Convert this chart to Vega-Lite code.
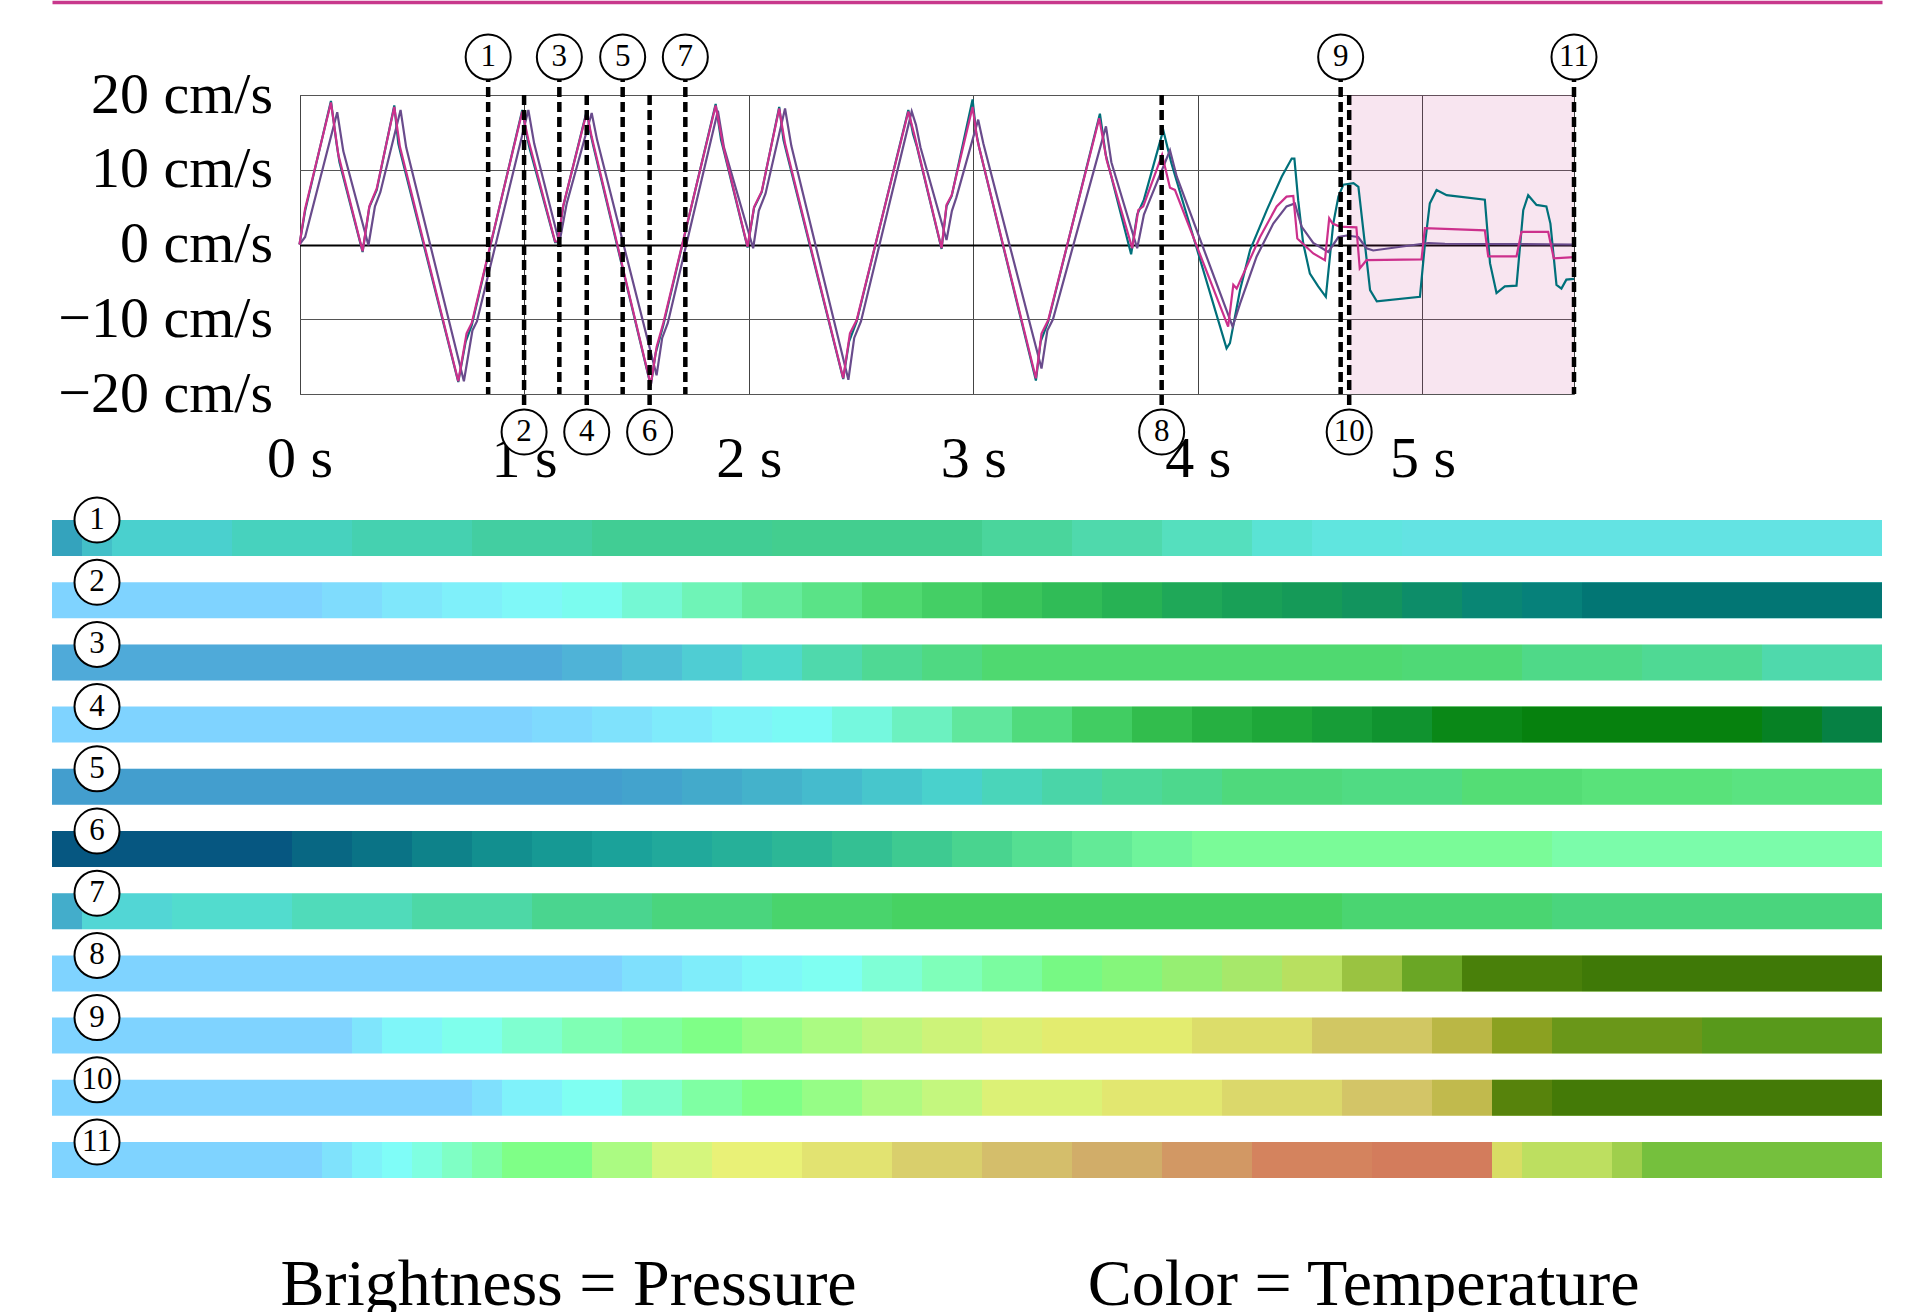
{
  "$schema": "https://vega.github.io/schema/vega-lite/v6.json",
  "width": 1920,
  "height": 1312,
  "autosize": {"type": "none"},
  "padding": 0,
  "background": "white",
  "config": {"view": {"stroke": null}, "font": "Liberation Serif"},
  "title": {
    "text": "Brightness = Pressure\u00a0\u00a0\u00a0\u00a0\u00a0\u00a0\u00a0\u00a0\u00a0\u00a0\u00a0\u00a0\u00a0\u00a0Color = Temperature",
    "orient": "bottom", "anchor": "middle", "frame": "group", "offset": -7,
    "baseline": "alphabetic", "font": "Liberation Serif", "fontSize": 66, "fontWeight": "normal", "color": "black"
  },
  "datasets": {
    "pink": [{"t":0,"v":0},{"t":0.025,"v":4.8},{"t":0.14,"v":19},{"t":0.173,"v":12},{"t":0.281,"v":-0.9},{"t":0.311,"v":5.1},{"t":0.344,"v":7.5},{"t":0.422,"v":18.4},{"t":0.447,"v":13.1},{"t":0.707,"v":-18.3},{"t":0.744,"v":-11.9},{"t":0.767,"v":-10.5},{"t":0.992,"v":17.8},{"t":1.019,"v":14},{"t":1.138,"v":0.4},{"t":1.15,"v":0.4},{"t":1.175,"v":5.3},{"t":1.279,"v":17.7},{"t":1.301,"v":14.4},{"t":1.564,"v":-18.8},{"t":1.59,"v":-13.7},{"t":1.62,"v":-10.5},{"t":1.853,"v":18.6},{"t":1.887,"v":13.1},{"t":1.995,"v":-0.3},{"t":2.024,"v":5},{"t":2.058,"v":7.1},{"t":2.136,"v":18.2},{"t":2.162,"v":13.5},{"t":2.421,"v":-17.9},{"t":2.451,"v":-11.9},{"t":2.481,"v":-10.1},{"t":2.711,"v":17.8},{"t":2.74,"v":14.4},{"t":2.859,"v":-0.5},{"t":2.881,"v":5.3},{"t":2.904,"v":6.6},{"t":2.997,"v":18.4},{"t":3.018,"v":14},{"t":3.279,"v":-17.9},{"t":3.304,"v":-11.9},{"t":3.334,"v":-10.1},{"t":3.561,"v":16.9},{"t":3.594,"v":11.3},{"t":3.708,"v":-0.5},{"t":3.735,"v":4.6},{"t":3.757,"v":5.1},{"t":3.841,"v":12},{"t":3.876,"v":7.6},{"t":3.898,"v":7.3},{"t":4.135,"v":-11},{"t":4.158,"v":-5.4},{"t":4.173,"v":-5.9},{"t":4.277,"v":1},{"t":4.351,"v":5.1},{"t":4.395,"v":6.4},{"t":4.425,"v":6.5},{"t":4.443,"v":0.8},{"t":4.514,"v":-1.2},{"t":4.566,"v":-2.1},{"t":4.585,"v":3.5},{"t":4.6,"v":2.8},{"t":4.632,"v":2.4},{"t":4.706,"v":2.3},{"t":4.721,"v":-3.2},{"t":4.751,"v":-2.1},{"t":4.996,"v":-2},{"t":5.011,"v":2.2},{"t":5.278,"v":1.9},{"t":5.293,"v":-1.6},{"t":5.419,"v":-1.6},{"t":5.441,"v":1.7},{"t":5.56,"v":1.7},{"t":5.585,"v":-1.85},{"t":5.675,"v":-1.7}],
    "purple": [{"t":0,"v":0},{"t":0.025,"v":1},{"t":0.168,"v":17.7},{"t":0.195,"v":12.5},{"t":0.307,"v":-0.1},{"t":0.336,"v":5.1},{"t":0.36,"v":7},{"t":0.45,"v":18},{"t":0.475,"v":13},{"t":0.732,"v":-18.3},{"t":0.77,"v":-11.5},{"t":0.79,"v":-10.3},{"t":1.019,"v":18},{"t":1.045,"v":13.5},{"t":1.157,"v":0.2},{"t":1.19,"v":5.5},{"t":1.301,"v":17.6},{"t":1.325,"v":14},{"t":1.59,"v":-17.5},{"t":1.615,"v":-12.5},{"t":1.64,"v":-10.5},{"t":1.863,"v":17.9},{"t":1.89,"v":13},{"t":2.02,"v":-0.5},{"t":2.045,"v":4.5},{"t":2.075,"v":6.8},{"t":2.162,"v":18.2},{"t":2.19,"v":13.2},{"t":2.444,"v":-18.1},{"t":2.47,"v":-12.5},{"t":2.5,"v":-10.3},{"t":2.726,"v":17.8},{"t":2.745,"v":16},{"t":2.765,"v":13},{"t":2.881,"v":0.6},{"t":2.905,"v":4.5},{"t":2.925,"v":6.3},{"t":3.022,"v":16.7},{"t":3.045,"v":13.5},{"t":3.304,"v":-16.6},{"t":3.33,"v":-11.5},{"t":3.355,"v":-10},{"t":3.591,"v":15.8},{"t":3.615,"v":11},{"t":3.73,"v":-0.5},{"t":3.76,"v":4},{"t":3.78,"v":5.5},{"t":3.876,"v":12.6},{"t":3.906,"v":9.1},{"t":4.155,"v":-11},{"t":4.188,"v":-7.9},{"t":4.262,"v":-1.6},{"t":4.336,"v":2.8},{"t":4.395,"v":5.1},{"t":4.432,"v":5.5},{"t":4.462,"v":2.4},{"t":4.514,"v":0.2},{"t":4.581,"v":-1},{"t":4.626,"v":1},{"t":4.663,"v":1.2},{"t":4.714,"v":1},{"t":4.751,"v":-0.5},{"t":4.781,"v":-0.8},{"t":5.026,"v":0.2},{"t":5.1,"v":0.1},{"t":5.675,"v":0}],
    "teal": [{"t":0,"v":0},{"t":0.025,"v":4.5},{"t":0.14,"v":19.2},{"t":0.165,"v":13.5},{"t":0.178,"v":11},{"t":0.281,"v":-1},{"t":0.311,"v":5},{"t":0.344,"v":7.3},{"t":0.422,"v":18.6},{"t":0.44,"v":13.5},{"t":0.452,"v":12},{"t":0.707,"v":-18.4},{"t":0.74,"v":-13},{"t":0.767,"v":-10.8},{"t":0.992,"v":18},{"t":1.012,"v":14.5},{"t":1.025,"v":12.8},{"t":1.138,"v":0.3},{"t":1.15,"v":0.3},{"t":1.175,"v":5.2},{"t":1.279,"v":17.9},{"t":1.296,"v":14.8},{"t":1.308,"v":13.2},{"t":1.564,"v":-18.9},{"t":1.586,"v":-14.5},{"t":1.62,"v":-10.8},{"t":1.853,"v":18.8},{"t":1.877,"v":14},{"t":1.892,"v":12.2},{"t":1.995,"v":-0.4},{"t":2.024,"v":4.9},{"t":2.058,"v":7},{"t":2.136,"v":18.4},{"t":2.155,"v":14},{"t":2.168,"v":12.4},{"t":2.421,"v":-18},{"t":2.447,"v":-13},{"t":2.481,"v":-10.3},{"t":2.711,"v":18},{"t":2.732,"v":14.8},{"t":2.748,"v":13.2},{"t":2.859,"v":-0.6},{"t":2.881,"v":5.1},{"t":2.904,"v":6.5},{"t":2.997,"v":19.4},{"t":3.013,"v":15},{"t":3.026,"v":13},{"t":3.279,"v":-18.2},{"t":3.3,"v":-13},{"t":3.334,"v":-10.3},{"t":3.564,"v":17.5},{"t":3.59,"v":12},{"t":3.703,"v":-1.3},{"t":3.73,"v":4},{"t":3.76,"v":6},{"t":3.846,"v":15.3},{"t":3.882,"v":10.9},{"t":4.128,"v":-13.9},{"t":4.143,"v":-13.2},{"t":4.188,"v":-6.1},{"t":4.233,"v":-0.7},{"t":4.307,"v":4.6},{"t":4.374,"v":9.1},{"t":4.418,"v":11.5},{"t":4.43,"v":11.5},{"t":4.447,"v":5.9},{"t":4.469,"v":0.2},{"t":4.499,"v":-3.9},{"t":4.536,"v":-5.6},{"t":4.57,"v":-7},{"t":4.603,"v":2.8},{"t":4.626,"v":6.4},{"t":4.648,"v":8},{"t":4.693,"v":8.2},{"t":4.715,"v":7.7},{"t":4.737,"v":1.9},{"t":4.767,"v":-6.1},{"t":4.797,"v":-7.6},{"t":4.989,"v":-7},{"t":5.011,"v":0},{"t":5.033,"v":5.5},{"t":5.063,"v":7.3},{"t":5.108,"v":6.6},{"t":5.278,"v":6},{"t":5.301,"v":-2.5},{"t":5.33,"v":-6.5},{"t":5.367,"v":-5.6},{"t":5.419,"v":-5.5},{"t":5.449,"v":4.6},{"t":5.471,"v":6.6},{"t":5.508,"v":5.3},{"t":5.552,"v":5.1},{"t":5.57,"v":2.8},{"t":5.597,"v":-5.4},{"t":5.619,"v":-5.9},{"t":5.641,"v":-4.7},{"t":5.675,"v":-4.6}],
    "band": [{"t":4.677,"t2":5.675,"v":-20,"v2":20}],
    "markers": [
      {"n":"1","t":0.84,"v":25.08,"v2":-20,"ly":25.08},
      {"n":"2","t":1.0,"v":20,"v2":-25.08,"ly":-25.08},
      {"n":"3","t":1.157,"v":25.08,"v2":-20,"ly":25.08},
      {"n":"4","t":1.279,"v":20,"v2":-25.08,"ly":-25.08},
      {"n":"5","t":1.439,"v":25.08,"v2":-20,"ly":25.08},
      {"n":"6","t":1.559,"v":20,"v2":-25.08,"ly":-25.08},
      {"n":"7","t":1.718,"v":25.08,"v2":-20,"ly":25.08},
      {"n":"8","t":3.839,"v":20,"v2":-25.08,"ly":-25.08},
      {"n":"9","t":4.636,"v":25.08,"v2":-20,"ly":25.08},
      {"n":"10","t":4.674,"v":20,"v2":-25.08,"ly":-25.08},
      {"n":"11","t":5.675,"v":25.08,"v2":-20,"ly":25.08}
    ],
    "stripLabels": [
      {"s":1,"x":1.5,"n":"1"},{"s":2,"x":1.5,"n":"2"},{"s":3,"x":1.5,"n":"3"},{"s":4,"x":1.5,"n":"4"},
      {"s":5,"x":1.5,"n":"5"},{"s":6,"x":1.5,"n":"6"},{"s":7,"x":1.5,"n":"7"},{"s":8,"x":1.5,"n":"8"},
      {"s":9,"x":1.5,"n":"9"},{"s":10,"x":1.5,"n":"10"},{"s":11,"x":1.5,"n":"11"}
    ],
    "strips": [
      {"s":1,"a":0,"b":1,"t":0.4,"p":0.45},{"s":1,"a":1,"b":2,"t":0.7,"p":0.35},{"s":1,"a":2,"b":6,"t":0.9,"p":0.3},{"s":1,"a":6,"b":10,"t":1.1,"p":0.32},{"s":1,"a":10,"b":14,"t":1.2,"p":0.33},{"s":1,"a":14,"b":18,"t":1.3,"p":0.35},{"s":1,"a":18,"b":24,"t":1.4,"p":0.36},{"s":1,"a":24,"b":31,"t":1.45,"p":0.35},{"s":1,"a":31,"b":34,"t":1.4,"p":0.3},{"s":1,"a":34,"b":37,"t":1.3,"p":0.27},{"s":1,"a":37,"b":40,"t":1.2,"p":0.23},{"s":1,"a":40,"b":42,"t":1.05,"p":0.2},{"s":1,"a":42,"b":45,"t":0.95,"p":0.17},{"s":1,"a":45,"b":61,"t":0.85,"p":0.15},
      {"s":2,"a":0,"b":9,"t":0,"p":0},{"s":2,"a":9,"b":11,"t":0.2,"p":0},{"s":2,"a":11,"b":13,"t":0.45,"p":0},{"s":2,"a":13,"b":15,"t":0.65,"p":0},{"s":2,"a":15,"b":17,"t":0.85,"p":0},{"s":2,"a":17,"b":19,"t":1.05,"p":0.02},{"s":2,"a":19,"b":21,"t":1.25,"p":0.05},{"s":2,"a":21,"b":23,"t":1.45,"p":0.08},{"s":2,"a":23,"b":25,"t":1.6,"p":0.14},{"s":2,"a":25,"b":27,"t":1.7,"p":0.2},{"s":2,"a":27,"b":29,"t":1.8,"p":0.27},{"s":2,"a":29,"b":31,"t":1.8,"p":0.34},{"s":2,"a":31,"b":33,"t":1.8,"p":0.41},{"s":2,"a":33,"b":35,"t":1.75,"p":0.48},{"s":2,"a":35,"b":37,"t":1.7,"p":0.55},{"s":2,"a":37,"b":39,"t":1.6,"p":0.62},{"s":2,"a":39,"b":41,"t":1.55,"p":0.68},{"s":2,"a":41,"b":43,"t":1.5,"p":0.72},{"s":2,"a":43,"b":45,"t":1.4,"p":0.76},{"s":2,"a":45,"b":47,"t":1.25,"p":0.81},{"s":2,"a":47,"b":49,"t":1.1,"p":0.86},{"s":2,"a":49,"b":51,"t":1.0,"p":0.9},{"s":2,"a":51,"b":61,"t":0.9,"p":0.95},
      {"s":3,"a":0,"b":17,"t":0,"p":0.27},{"s":3,"a":17,"b":19,"t":0.2,"p":0.27},{"s":3,"a":19,"b":21,"t":0.45,"p":0.27},{"s":3,"a":21,"b":23,"t":0.75,"p":0.27},{"s":3,"a":23,"b":25,"t":1.05,"p":0.27},{"s":3,"a":25,"b":27,"t":1.3,"p":0.27},{"s":3,"a":27,"b":29,"t":1.5,"p":0.27},{"s":3,"a":29,"b":31,"t":1.65,"p":0.27},{"s":3,"a":31,"b":45,"t":1.8,"p":0.27},{"s":3,"a":45,"b":49,"t":1.75,"p":0.27},{"s":3,"a":49,"b":53,"t":1.6,"p":0.27},{"s":3,"a":53,"b":57,"t":1.5,"p":0.27},{"s":3,"a":57,"b":61,"t":1.3,"p":0.27},
      {"s":4,"a":0,"b":16,"t":0,"p":0},{"s":4,"a":16,"b":18,"t":0.15,"p":0},{"s":4,"a":18,"b":20,"t":0.35,"p":0},{"s":4,"a":20,"b":22,"t":0.55,"p":0},{"s":4,"a":22,"b":24,"t":0.75,"p":0},{"s":4,"a":24,"b":26,"t":0.95,"p":0.02},{"s":4,"a":26,"b":28,"t":1.15,"p":0.05},{"s":4,"a":28,"b":30,"t":1.35,"p":0.1},{"s":4,"a":30,"b":32,"t":1.55,"p":0.17},{"s":4,"a":32,"b":34,"t":1.7,"p":0.26},{"s":4,"a":34,"b":36,"t":1.8,"p":0.36},{"s":4,"a":36,"b":38,"t":1.85,"p":0.47},{"s":4,"a":38,"b":40,"t":1.85,"p":0.56},{"s":4,"a":40,"b":42,"t":1.85,"p":0.63},{"s":4,"a":42,"b":44,"t":1.8,"p":0.7},{"s":4,"a":44,"b":46,"t":1.8,"p":0.77},{"s":4,"a":46,"b":49,"t":1.95,"p":0.85},{"s":4,"a":49,"b":57,"t":2.0,"p":0.9},{"s":4,"a":57,"b":59,"t":1.8,"p":0.9},{"s":4,"a":59,"b":61,"t":1.5,"p":0.9},
      {"s":5,"a":0,"b":19,"t":0,"p":0.35},{"s":5,"a":19,"b":21,"t":0.1,"p":0.35},{"s":5,"a":21,"b":23,"t":0.25,"p":0.35},{"s":5,"a":23,"b":25,"t":0.4,"p":0.34},{"s":5,"a":25,"b":27,"t":0.55,"p":0.33},{"s":5,"a":27,"b":29,"t":0.75,"p":0.32},{"s":5,"a":29,"b":31,"t":0.95,"p":0.31},{"s":5,"a":31,"b":33,"t":1.15,"p":0.3},{"s":5,"a":33,"b":35,"t":1.3,"p":0.3},{"s":5,"a":35,"b":37,"t":1.45,"p":0.28},{"s":5,"a":37,"b":39,"t":1.55,"p":0.28},{"s":5,"a":39,"b":43,"t":1.7,"p":0.27},{"s":5,"a":43,"b":47,"t":1.65,"p":0.26},{"s":5,"a":47,"b":51,"t":1.8,"p":0.24},{"s":5,"a":51,"b":56,"t":1.8,"p":0.21},{"s":5,"a":56,"b":61,"t":1.75,"p":0.2},
      {"s":6,"a":0,"b":8,"t":0,"p":0.9},{"s":6,"a":8,"b":10,"t":0.3,"p":0.87},{"s":6,"a":10,"b":12,"t":0.5,"p":0.84},{"s":6,"a":12,"b":14,"t":0.7,"p":0.8},{"s":6,"a":14,"b":16,"t":0.85,"p":0.75},{"s":6,"a":16,"b":18,"t":0.95,"p":0.71},{"s":6,"a":18,"b":20,"t":1.0,"p":0.66},{"s":6,"a":20,"b":22,"t":1.05,"p":0.61},{"s":6,"a":22,"b":24,"t":1.12,"p":0.56},{"s":6,"a":24,"b":26,"t":1.2,"p":0.51},{"s":6,"a":26,"b":28,"t":1.3,"p":0.45},{"s":6,"a":28,"b":30,"t":1.4,"p":0.38},{"s":6,"a":30,"b":32,"t":1.5,"p":0.31},{"s":6,"a":32,"b":34,"t":1.57,"p":0.23},{"s":6,"a":34,"b":36,"t":1.63,"p":0.15},{"s":6,"a":36,"b":38,"t":1.7,"p":0.08},{"s":6,"a":38,"b":50,"t":1.8,"p":0.03},{"s":6,"a":50,"b":61,"t":1.65,"p":0.02},
      {"s":7,"a":0,"b":1,"t":0.3,"p":0.35},{"s":7,"a":1,"b":4,"t":0.9,"p":0.25},{"s":7,"a":4,"b":8,"t":1.05,"p":0.25},{"s":7,"a":8,"b":12,"t":1.2,"p":0.26},{"s":7,"a":12,"b":16,"t":1.35,"p":0.28},{"s":7,"a":16,"b":20,"t":1.5,"p":0.3},{"s":7,"a":20,"b":24,"t":1.65,"p":0.3},{"s":7,"a":24,"b":28,"t":1.78,"p":0.31},{"s":7,"a":28,"b":43,"t":1.85,"p":0.32},{"s":7,"a":43,"b":50,"t":1.75,"p":0.3},{"s":7,"a":50,"b":61,"t":1.65,"p":0.3},
      {"s":8,"a":0,"b":19,"t":0,"p":0},{"s":8,"a":19,"b":21,"t":0.3,"p":0},{"s":8,"a":21,"b":23,"t":0.6,"p":0},{"s":8,"a":23,"b":25,"t":0.85,"p":0},{"s":8,"a":25,"b":27,"t":1.05,"p":0},{"s":8,"a":27,"b":29,"t":1.3,"p":0},{"s":8,"a":29,"b":31,"t":1.55,"p":0},{"s":8,"a":31,"b":33,"t":1.75,"p":0.02},{"s":8,"a":33,"b":35,"t":1.95,"p":0.04},{"s":8,"a":35,"b":37,"t":2.15,"p":0.06},{"s":8,"a":37,"b":39,"t":2.35,"p":0.09},{"s":8,"a":39,"b":41,"t":2.55,"p":0.13},{"s":8,"a":41,"b":43,"t":2.75,"p":0.18},{"s":8,"a":43,"b":45,"t":2.75,"p":0.38},{"s":8,"a":45,"b":47,"t":2.6,"p":0.6},{"s":8,"a":47,"b":51,"t":2.6,"p":0.88},{"s":8,"a":51,"b":61,"t":2.55,"p":0.93},
      {"s":9,"a":0,"b":10,"t":0,"p":0},{"s":9,"a":10,"b":11,"t":0.4,"p":0},{"s":9,"a":11,"b":13,"t":0.8,"p":0},{"s":9,"a":13,"b":15,"t":1.1,"p":0},{"s":9,"a":15,"b":17,"t":1.35,"p":0},{"s":9,"a":17,"b":19,"t":1.6,"p":0},{"s":9,"a":19,"b":21,"t":1.8,"p":0},{"s":9,"a":21,"b":23,"t":2.0,"p":0},{"s":9,"a":23,"b":25,"t":2.2,"p":0},{"s":9,"a":25,"b":27,"t":2.4,"p":0.01},{"s":9,"a":27,"b":29,"t":2.6,"p":0.02},{"s":9,"a":29,"b":31,"t":2.75,"p":0.04},{"s":9,"a":31,"b":33,"t":2.9,"p":0.06},{"s":9,"a":33,"b":38,"t":3.0,"p":0.08},{"s":9,"a":38,"b":42,"t":3.2,"p":0.12},{"s":9,"a":42,"b":46,"t":3.5,"p":0.18},{"s":9,"a":46,"b":48,"t":3.3,"p":0.35},{"s":9,"a":48,"b":50,"t":2.9,"p":0.62},{"s":9,"a":50,"b":55,"t":2.7,"p":0.7},{"s":9,"a":55,"b":61,"t":2.55,"p":0.7},
      {"s":10,"a":0,"b":14,"t":0,"p":0},{"s":10,"a":14,"b":15,"t":0.3,"p":0},{"s":10,"a":15,"b":17,"t":0.7,"p":0},{"s":10,"a":17,"b":19,"t":1.05,"p":0},{"s":10,"a":19,"b":21,"t":1.4,"p":0},{"s":10,"a":21,"b":23,"t":1.75,"p":0},{"s":10,"a":23,"b":25,"t":2.0,"p":0},{"s":10,"a":25,"b":27,"t":2.2,"p":0},{"s":10,"a":27,"b":29,"t":2.45,"p":0.01},{"s":10,"a":29,"b":31,"t":2.65,"p":0.02},{"s":10,"a":31,"b":35,"t":2.9,"p":0.05},{"s":10,"a":35,"b":39,"t":3.1,"p":0.08},{"s":10,"a":39,"b":43,"t":3.3,"p":0.12},{"s":10,"a":43,"b":46,"t":3.6,"p":0.16},{"s":10,"a":46,"b":48,"t":3.4,"p":0.3},{"s":10,"a":48,"b":50,"t":2.7,"p":0.85},{"s":10,"a":50,"b":61,"t":2.6,"p":0.92},
      {"s":11,"a":0,"b":9,"t":0,"p":0},{"s":11,"a":9,"b":10,"t":0.35,"p":0},{"s":11,"a":10,"b":11,"t":0.7,"p":0},{"s":11,"a":11,"b":12,"t":0.95,"p":0},{"s":11,"a":12,"b":13,"t":1.2,"p":0},{"s":11,"a":13,"b":14,"t":1.45,"p":0},{"s":11,"a":14,"b":15,"t":1.7,"p":0},{"s":11,"a":15,"b":18,"t":2.0,"p":0},{"s":11,"a":18,"b":20,"t":2.4,"p":0.01},{"s":11,"a":20,"b":22,"t":2.8,"p":0.02},{"s":11,"a":22,"b":25,"t":3.0,"p":0.04},{"s":11,"a":25,"b":28,"t":3.2,"p":0.08},{"s":11,"a":28,"b":31,"t":3.5,"p":0.12},{"s":11,"a":31,"b":34,"t":3.8,"p":0.14},{"s":11,"a":34,"b":37,"t":4.1,"p":0.16},{"s":11,"a":37,"b":40,"t":4.4,"p":0.18},{"s":11,"a":40,"b":44,"t":4.7,"p":0.19},{"s":11,"a":44,"b":48,"t":4.8,"p":0.2},{"s":11,"a":48,"b":49,"t":3.1,"p":0.15},{"s":11,"a":49,"b":52,"t":2.8,"p":0.18},{"s":11,"a":52,"b":53,"t":2.7,"p":0.3},{"s":11,"a":53,"b":61,"t":2.5,"p":0.42}
    ]
  },
  "layer": [
    {
      "encoding": {
        "x": {"field": "t", "type": "quantitative",
          "scale": {"domain": [0, 5.675], "range": [299.5, 1574], "nice": false, "zero": false},
          "axis": {"orient": "top", "offset": -394, "values": [0, 1, 2, 3, 4, 5, 5.675],
            "grid": true, "gridColor": "#444", "gridWidth": 1, "domain": false, "ticks": false, "tickSize": 0,
            "labelPadding": -65, "labelBaseline": "middle", "labelFontSize": 58, "labelFont": "Liberation Serif",
            "labelColor": "black", "labelFlush": false, "labelOverlap": false, "labelLimit": 0,
            "labelExpr": "datum.value > 5.5 ? '' : format(datum.value, 'd') + ' s'", "title": null}},
        "y": {"field": "v", "type": "quantitative",
          "scale": {"domain": [-20, 20], "range": [394, 95], "nice": false, "zero": false},
          "axis": {"orient": "left", "offset": -299.5, "values": [-20, -10, 0, 10, 20],
            "grid": true,
            "gridColor": {"condition": {"test": "datum.value === 0", "value": "#000000"}, "value": "#555555"},
            "gridWidth": {"condition": {"test": "datum.value === 0", "value": 2}, "value": 1},
            "domain": false, "ticks": false, "tickSize": 0, "labelPadding": 27,
            "labelFontSize": 58, "labelFont": "Liberation Serif", "labelColor": "black",
            "labelFlush": false, "labelOverlap": false, "labelLimit": 0,
            "labelExpr": "format(datum.value, 'd') + ' cm/s'", "title": null}}
      },
      "layer": [
        {"data": {"name": "band"}, "mark": {"type": "rect", "color": "#c8388c", "opacity": 0.13},
         "encoding": {"x2": {"field": "t2"}, "y2": {"field": "v2"}}},
        {"data": {"name": "teal"}, "mark": {"type": "line", "color": "#00707a", "strokeWidth": 2.2}, "encoding": {}},
        {"data": {"name": "purple"}, "mark": {"type": "line", "color": "#694b8c", "strokeWidth": 2.2}, "encoding": {}},
        {"data": {"name": "pink"}, "mark": {"type": "line", "color": "#cc308c", "strokeWidth": 2.2}, "encoding": {}},
        {"data": {"name": "markers"}, "mark": {"type": "rule", "color": "black", "strokeWidth": 4.5, "strokeDash": [10, 5]},
         "encoding": {"y2": {"field": "v2"}}},
        {"data": {"name": "markers"},
         "mark": {"type": "point", "shape": "circle", "size": 2025, "filled": true, "fill": "white", "stroke": "black", "strokeWidth": 2, "opacity": 1},
         "encoding": {"y": {"field": "ly", "type": "quantitative"}}},
        {"data": {"name": "markers"},
         "mark": {"type": "text", "font": "Liberation Serif", "fontSize": 31, "align": "center", "baseline": "middle", "color": "black"},
         "encoding": {"y": {"field": "ly", "type": "quantitative"}, "text": {"field": "n"}}}
      ]
    },
    {
      "encoding": {
        "x": {"field": "a", "type": "quantitative",
          "scale": {"domain": [0, 61], "range": [52, 1882], "nice": false, "zero": false},
          "axis": {"orient": "top", "offset": -2, "domainColor": "#c8388c", "domainWidth": 3.5,
            "labels": false, "ticks": false, "grid": false, "title": null}},
        "y": {"field": "s", "type": "ordinal",
          "scale": {"range": [520, 1178], "paddingInner": 0.421, "paddingOuter": 0},
          "axis": null}
      },
      "layer": [
        {"data": {"name": "strips"}, "mark": {"type": "rect"},
         "encoding": {
           "x2": {"field": "b"},
           "color": {"field": "t", "type": "quantitative", "legend": null,
             "scale": {"domain": [0, 1, 2, 3, 4, 5], "range": ["#00a8ff", "#00fff0", "#00ff10", "#e0f000", "#d09a10", "#e82800"], "interpolate": "rgb"}},
           "opacity": {"field": "p", "type": "quantitative", "legend": null,
             "scale": {"domain": [0, 1], "range": [0.5, 1]}}}},
        {"data": {"name": "strips"}, "mark": {"type": "rect", "color": "black"},
         "encoding": {
           "x2": {"field": "b"},
           "fillOpacity": {"field": "p", "type": "quantitative", "legend": null,
             "scale": {"domain": [0, 1], "range": [0, 0.55]}}}},
        {"data": {"name": "stripLabels"},
         "mark": {"type": "point", "shape": "circle", "size": 2025, "filled": true, "fill": "white", "stroke": "black", "strokeWidth": 2, "opacity": 1},
         "encoding": {"x": {"field": "x", "type": "quantitative"}, "y": {"field": "s", "type": "ordinal", "bandPosition": 0}}},
        {"data": {"name": "stripLabels"},
         "mark": {"type": "text", "font": "Liberation Serif", "fontSize": 31, "align": "center", "baseline": "middle", "color": "black"},
         "encoding": {"x": {"field": "x", "type": "quantitative"}, "y": {"field": "s", "type": "ordinal", "bandPosition": 0}, "text": {"field": "n"}}}
      ]
    }
  ],
  "resolve": {
    "scale": {"x": "independent", "y": "independent"},
    "axis": {"x": "independent", "y": "independent"}
  }
}
